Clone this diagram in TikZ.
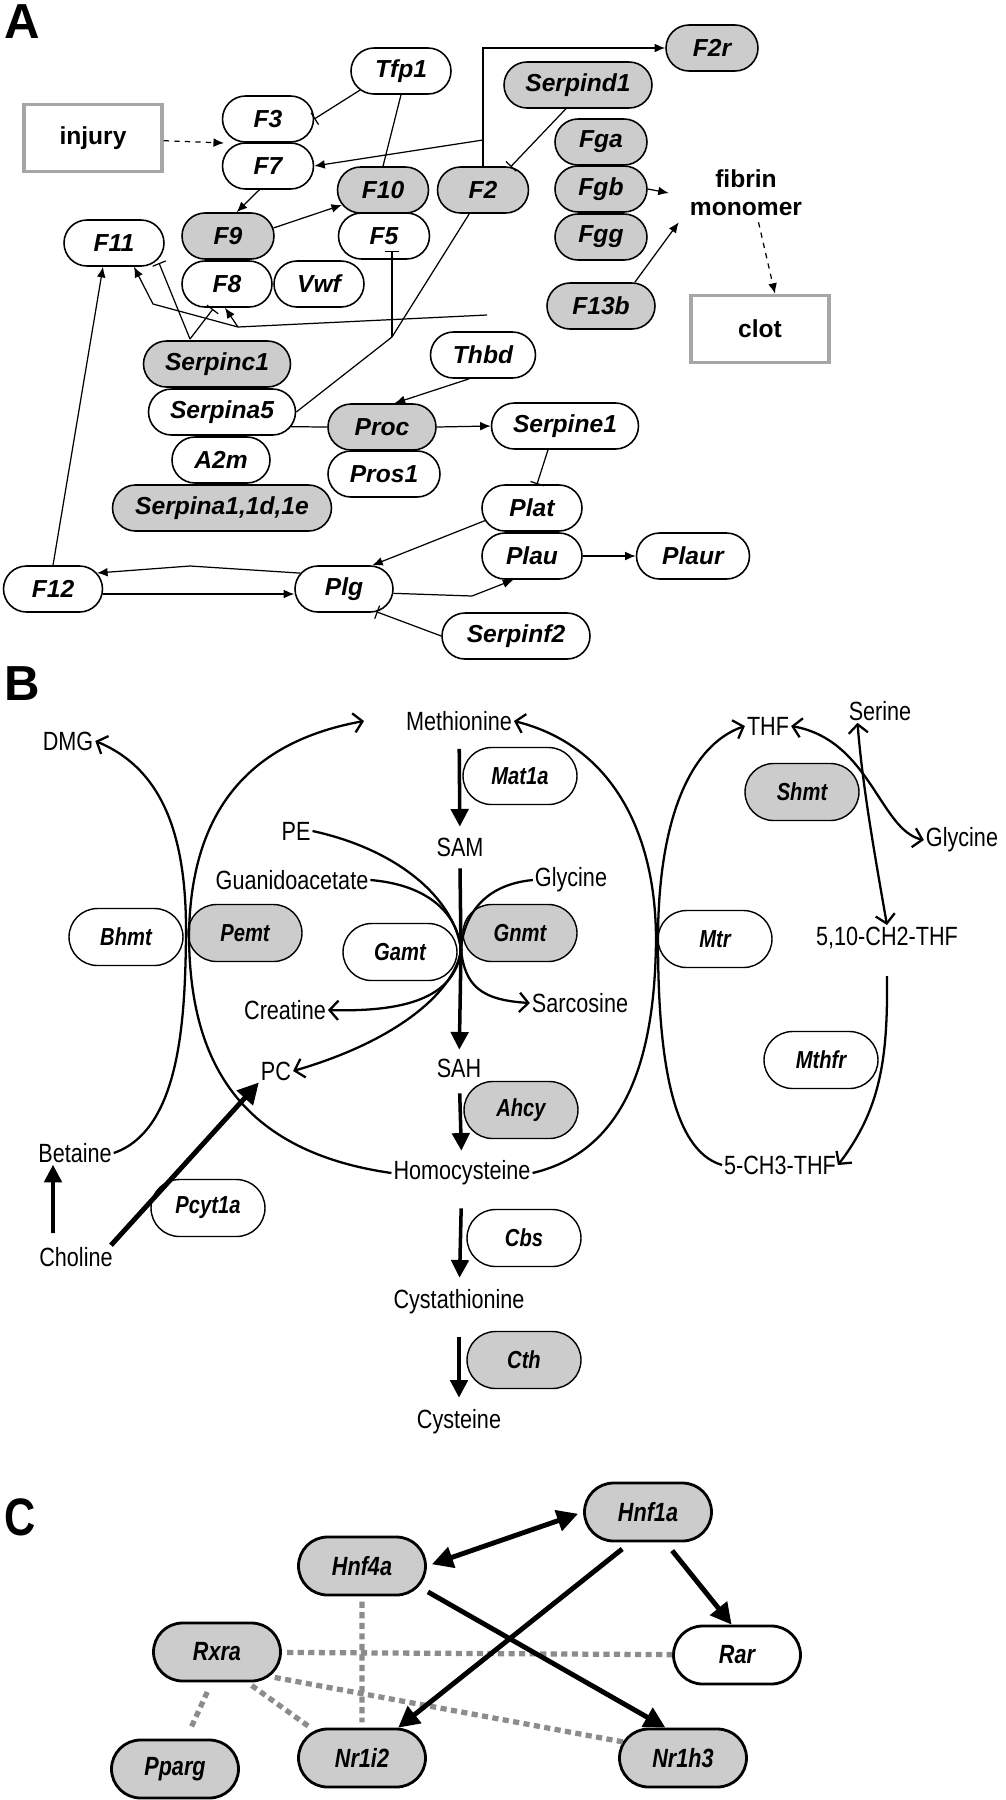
\documentclass[tikz,border=0pt]{standalone}
\usepackage{fontspec}
\setmainfont{Liberation Sans}
\newfontfamily\narrowfont[FakeStretch=0.82]{Liberation Sans}
\usetikzlibrary{shapes.misc,arrows.meta}

\tikzset{
  gene/.style={rounded rectangle, draw, line width=0.9pt, minimum height=0.92cm, inner sep=0pt,
    font=\fontsize{14}{14}\selectfont\bfseries\itshape},
  on/.style={fill=black!20},
  enz/.style={rounded rectangle, draw, line width=0.8pt, minimum width=2.28cm, minimum height=1.14cm,
    inner sep=0pt, font=\narrowfont\fontsize{14}{14}\selectfont\bfseries\itshape},
  met/.style={font=\narrowfont\fontsize{15}{15}\selectfont, inner sep=1pt},
  tf/.style={rounded rectangle, draw, line width=1.6pt, minimum width=2.54cm, minimum height=1.16cm,
    inner sep=0pt, fill=black!20, font=\narrowfont\fontsize{15}{15}\selectfont\bfseries\itshape},
  act/.style={-{Latex[length=6pt,width=5pt]}, line width=0.7pt},
  inh/.style={-{Bar[width=8pt]}, line width=0.7pt},
  flow/.style={-{Straight Barb[length=5pt,width=11pt]}, line width=1.3pt},
  main/.style={-{Triangle[length=10pt,width=10pt]}, line width=2pt},
  big/.style={-{Triangle[length=12pt,width=12pt]}, line width=2.8pt},
  dots/.style={black!45, line width=3pt, dash pattern=on 3.5pt off 2.5pt},
  site/.style={draw=black!35, line width=2pt, minimum width=2.76cm, minimum height=1.34cm,
    font=\fontsize{14}{14}\selectfont\bfseries},
  panel/.style={font=\fontsize{28}{28}\selectfont\bfseries}
}

\begin{document}
\begin{tikzpicture}[x=0.02cm, y=-0.02cm]
\useasboundingbox (0,0) rectangle (1005,1800);

% panel A
\node[panel] (A) at (22,22) {A};
\node[site] (injury) at (93,138) {injury};
\node[site] (clot) at (760,329) {clot};
\node[font=\fontsize{14}{16}\selectfont\bfseries, align=center] (fibrin) at (746,193) {fibrin\\monomer};

\node[gene, minimum width=2.0cm] (Tfp1) at (401,71) {Tfp1};
\node[gene, minimum width=1.82cm] (F3) at (268,119) {F3};
\node[gene, minimum width=1.82cm] (F7) at (268,166) {F7};
\node[gene, on, minimum width=1.84cm] (F9) at (228,236) {F9};
\node[gene, minimum width=1.8cm] (F8) at (227,284) {F8};
\node[gene, minimum width=1.8cm] (Vwf) at (319,284) {Vwf};
\node[gene, on, minimum width=1.82cm] (F10) at (383,190) {F10};
\node[gene, minimum width=1.82cm] (F5) at (384,236) {F5};
\node[gene, on, minimum width=1.82cm] (F2) at (483,190) {F2};
\node[gene, on, minimum width=1.84cm] (F2r) at (712,48) {F2r};
\node[gene, on, minimum width=2.96cm] (Serpind1) at (578,85) {Serpind1};
\node[gene, on, minimum width=1.84cm] (Fga) at (601,142) {Fga};
\node[gene, on, minimum width=1.84cm] (Fgb) at (601,189) {Fgb};
\node[gene, on, minimum width=1.84cm] (Fgg) at (601,237) {Fgg};
\node[gene, on, minimum width=2.16cm] (F13b) at (601,306) {F13b};
\node[gene, minimum width=2.0cm] (F11) at (114,243) {F11};
\node[gene, on, minimum width=2.94cm] (Serpinc1) at (217,364) {Serpinc1};
\node[gene, minimum width=2.94cm] (Serpina5) at (222,412) {Serpina5};
\node[gene, minimum width=1.96cm] (A2m) at (221,460) {A2m};
\node[gene, on, minimum width=4.38cm] (Serpina1) at (222,508) {Serpina1,1d,1e};
\node[gene, minimum width=2.1cm] (Thbd) at (483,355) {Thbd};
\node[gene, on, minimum width=2.16cm] (Proc) at (382,427) {Proc};
\node[gene, minimum width=2.24cm] (Pros1) at (384,474) {Pros1};
\node[gene, minimum width=2.94cm] (Serpine1) at (565,426) {Serpine1};
\node[gene, minimum width=2.0cm] (Plat) at (532,508) {Plat};
\node[gene, minimum width=2.0cm] (Plau) at (532,556) {Plau};
\node[gene, minimum width=2.26cm] (Plaur) at (693,556) {Plaur};
\node[gene, minimum width=1.98cm] (F12) at (53,589) {F12};
\node[gene, minimum width=1.96cm] (Plg) at (344,589) {Plg};
\node[gene, minimum width=2.96cm] (Serpinf2) at (516,636) {Serpinf2};

\coordinate (F3F7) at (224,143);
\coordinate (F2v) at (483,140);
\coordinate (J) at (392,337);
\coordinate (K) at (238,327);
\coordinate (Kend) at (487,315);
\coordinate (Kbend) at (153,304);
\coordinate (Sc) at (190,339);
\coordinate (Sc11) at (159,263);
\coordinate (Sc8) at (213,309);
\coordinate (Pbend) at (190,566);
\coordinate (Ubend) at (472,596);

\draw[act, dashed] (injury) -- (F3F7);
\draw[inh] (Tfp1.205) -- (F3.east);
\draw[line width=0.7pt] (Tfp1.south) -- (F10.north);
\draw[act] (F2.north) |- (F2r.west);
\draw[act] (F2v) -- (F7.east);
\draw[inh] (Serpind1.243) -- (F2.40);
\draw[act] (F7.250) -- (F9.70);
\draw[act] (F9.10) -- (F10.200);
\draw[act] (Fgb.east) -- ([xshift=-0.3cm]fibrin.west);
\draw[act] (F13b.35) -- ([xshift=-0.1cm]fibrin.south west);
\draw[act, dashed] ([xshift=0.25cm]fibrin.south) -- ([xshift=0.3cm]clot.north);
\draw[line width=0.7pt] (F2.240) -- (J) -- (Serpina5.east);
\draw[inh, shorten >=-5pt] (J) -- (J |- F5.south);
\draw[line width=0.7pt] (Kend) -- (K);
\draw[act] (K) -- ([xshift=-0.04cm]F8.south);
\draw[act] (K) -- (Kbend) -- (F11.-50);
\draw[inh] (Sc) -- (Sc11);
\draw[inh] (Sc) -- (Sc8);
\draw[act] (F12.north) -- ([xshift=-0.22cm]F11.south);
\draw[line width=0.7pt] (Serpina5.-12) -- (Proc.west);
\draw[act] (Thbd.240) -- (Proc.62);
\draw[act] (Proc.east) -- (Serpine1.west);
\draw[inh] ([xshift=-0.34cm]Serpine1.south) -- ([xshift=0.1cm]Plat.north);
\draw[act] (Plat.195) -- (Plg.40);
\draw[act] (Plg.160) -- (Pbend) -- (F12.20);
\draw[act] ([yshift=-0.1cm]F12.east) -- ([yshift=-0.1cm]Plg.west);
\draw[act] (Plg.-5) -- (Ubend) -- (Plau.-128);
\draw[act] (Plau.east) -- (Plaur.west);
\draw[inh] (Serpinf2.west) -- (Plg.-35);

% panel B
\node[panel] (B) at (22,684) {B};
\node[met] (Met) at (459,721) {Methionine};
\node[met] (SAM) at (460,847) {SAM};
\node[met] (SAH) at (459,1068) {SAH};
\node[met] (Hcy) at (462,1173) {Homocysteine};
\node[met] (Cysta) at (459,1302) {Cystathionine};
\node[met] (Cys) at (459,1422) {Cysteine};
\node[met] (DMG) at (68,741) {DMG};
\node[met] (PE) at (296,831) {PE};
\node[met] (Guan) at (292,880) {Guanidoacetate};
\node[met] (GlyA) at (571,880) {Glycine};
\node[met] (Crea) at (285,1010) {Creatine};
\node[met] (Sarc) at (580,1003) {Sarcosine};
\node[met] (PC) at (276,1071) {PC};
\node[met] (Bet) at (75,1153) {Betaine};
\node[met] (Chol) at (76,1257) {Choline};
\node[met] (THF) at (768,726) {THF};
\node[met] (Ser) at (880,711) {Serine};
\node[met] (GlyB) at (962,840) {Glycine};
\node[met] (CH2) at (887,938) {5,10-CH2-THF};
\node[met] (CH3) at (780,1165) {5-CH3-THF};

\node[enz] (Mat1a) at (520,776) {Mat1a};
\node[enz] (Bhmt) at (126,937) {Bhmt};
\node[enz, on] (Pemt) at (245,933) {Pemt};
\node[enz] (Gamt) at (400,952) {Gamt};
\node[enz, on] (Gnmt) at (520,933) {Gnmt};
\node[enz] (Mtr) at (715,939) {Mtr};
\node[enz, on] (Shmt) at (802,792) {Shmt};
\node[enz] (Mthfr) at (821,1060) {Mthfr};
\node[enz, on] (Ahcy) at (521,1110) {Ahcy};
\node[enz] (Pcyt1a) at (208,1208) {Pcyt1a};
\node[enz] (Cbs) at (524,1238) {Cbs};
\node[enz, on] (Cth) at (524,1360) {Cth};

\coordinate (X) at (461,950);
\draw[main, shorten <=0.32cm, shorten >=0.18cm] (Met) -- (SAM);
\draw[line width=2pt] (SAM.south) ++(0,10) -- (X);
\draw[main, shorten >=0.14cm] (X) -- (SAH);
\draw[main, shorten <=0.28cm, shorten >=0.16cm] (SAH) -- (Hcy);
\draw[main, shorten <=0.42cm, shorten >=0.2cm] (Hcy) -- (Cysta);
\draw[main, shorten <=0.42cm, shorten >=0.2cm] (Cysta) -- (Cys);
\draw[flow] (PE.east) .. controls (400,850) and (455,900) .. (X)
  .. controls (455,990) and (400,1040) .. (PC.east);
\draw[flow] (Guan.east) .. controls (430,885) and (458,915) .. (X)
  .. controls (455,1000) and (400,1012) .. (Crea.east);
\draw[flow] (GlyA.west) .. controls (480,885) and (463,920) .. (X)
  .. controls (465,985) and (480,1000) .. (Sarc.west);
\draw[flow] (Bet.east) .. controls (180,1130) and (185,1020) .. (186,937)
  .. controls (187,840) and (165,770) .. (DMG.east);
\draw[flow] (Hcy.west) .. controls (230,1150) and (190,1050) .. (189,937)
  .. controls (190,800) and (260,740) .. ([xshift=-0.8cm]Met.west);
\draw[flow] (Hcy.east) .. controls (630,1150) and (655,1050) .. (656,940)
  .. controls (656,830) and (610,745) .. (Met.east);
\draw[flow] (CH3.west) .. controls (670,1150) and (658,1050) .. (658,940)
  .. controls (658,820) and (690,745) .. (THF.west);
\draw[flow, {Straight Barb[length=5pt,width=11pt]}-{Straight Barb[length=5pt,width=11pt]}]
  (GlyB.west) .. controls (880,830) and (870,740) .. (THF.east);
\draw[flow, {Straight Barb[length=5pt,width=11pt]}-{Straight Barb[length=5pt,width=11pt]}]
  (CH2.north) .. controls (872,840) and (862,780) .. ([xshift=-0.45cm]Ser.south);
\draw[flow] ([yshift=-0.5cm]CH2.south) .. controls (888,1060) and (880,1110) .. (CH3.east);
\draw[main] (Chol.north -| 53,0) ++(0,-12) -- ([xshift=-0.44cm]Bet.south);
\draw[big] ([xshift=0.7cm]Chol.north) -- (PC.south west);

% panel C
\node[panel, font=\narrowfont\fontsize{30}{30}\selectfont\bfseries] (C) at (20,1517) {C};
\node[tf] (Hnf1a) at (648,1512) {Hnf1a};
\node[tf] (Hnf4a) at (362,1566) {Hnf4a};
\node[tf] (Rxra) at (217,1652) {Rxra};
\node[tf, fill=white] (Rar) at (737,1655) {Rar};
\node[tf] (Pparg) at (175,1769) {Pparg};
\node[tf] (Nr1i2) at (362,1758) {Nr1i2};
\node[tf] (Nr1h3) at (683,1758) {Nr1h3};

\draw[dots, shorten <=3pt, shorten >=3pt] (Hnf4a) -- (Nr1i2);
\draw[dots, shorten <=3pt] (Rxra) -- (Rar);
\draw[dots, shorten <=3pt] (Rxra.-25) -- (Nr1h3.165);
\draw[dots, shorten <=3pt, shorten >=3pt] (Rxra.-45) -- (Nr1i2.150);
\draw[dots, shorten <=6pt, shorten >=6pt] (Rxra.-100) -- (Pparg.70);
\draw[big, {Triangle[length=12pt,width=12pt]}-{Triangle[length=12pt,width=12pt]}, shorten <=3pt, shorten >=3pt] (Hnf4a.east) -- (Hnf1a.west);
\draw[big, shorten <=6pt] (Hnf1a.-120) -- (Nr1i2.40);
\draw[big, shorten <=6pt] (Hnf4a.-20) -- (Nr1h3.120);
\draw[big, shorten <=6pt] (Hnf1a.-60) -- (Rar.100);
\end{tikzpicture}
\end{document}
